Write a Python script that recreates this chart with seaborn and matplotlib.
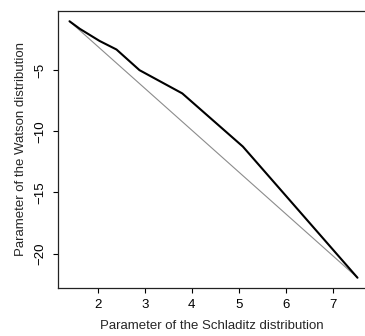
import matplotlib
matplotlib.use("Agg")
import matplotlib.pyplot as plt
import seaborn as sns
import pandas as pd

# values
schladitz = [1.40, 1.62, 2.04, 2.40, 2.89, 3.80, 5.09, 7.53]
watson = [-1.0, -1.62, -2.61, -3.31, -5.0, -6.90, -11.25, -21.98]

# straight reference line between the end points
ref_x = [1.40, 7.53]
ref_y = [-1.0, -21.98]

df = pd.DataFrame({'Schladitz': schladitz, 'Watson': watson})
ref = pd.DataFrame({'x': ref_x, 'y': ref_y})

sns.set_style('ticks')
plt.rcParams['font.family'] = ['Liberation Sans', 'DejaVu Sans']

fig = plt.figure(figsize=(3.65, 3.36), dpi=100)
ax = fig.add_axes([58 / 365, 1 - 288 / 336, 311 / 365, 277 / 336])

sns.lineplot(data=ref, x='x', y='y', color='#8c8c8c', linewidth=0.8, ax=ax)
sns.lineplot(data=df, x='Schladitz', y='Watson', color='black', linewidth=1.5, ax=ax)

ax.set_xlim(1.155, 7.775)
ax.set_ylim(-22.82, -0.16)
ax.set_xticks([2, 3, 4, 5, 6, 7])
ax.set_yticks([-20, -15, -10, -5])
ax.tick_params(direction='out', length=3.6, width=0.8, labelsize=9.5, pad=4.5, colors='black')
for lab in ax.get_yticklabels():
    lab.set_rotation(90)
    lab.set_va('center')
for sp in ax.spines.values():
    sp.set_visible(True)
    sp.set_linewidth(0.9)
    sp.set_color('#222222')

ax.set_xlabel('Parameter of the Schladitz distribution', fontsize=9.5)
ax.set_ylabel('Parameter of the Watson distribution', fontsize=9.5)
ax.xaxis.set_label_coords(0.495, -0.116)
ax.yaxis.set_label_coords(-0.1, 0.5)

fig.savefig('out.png', dpi=100)
